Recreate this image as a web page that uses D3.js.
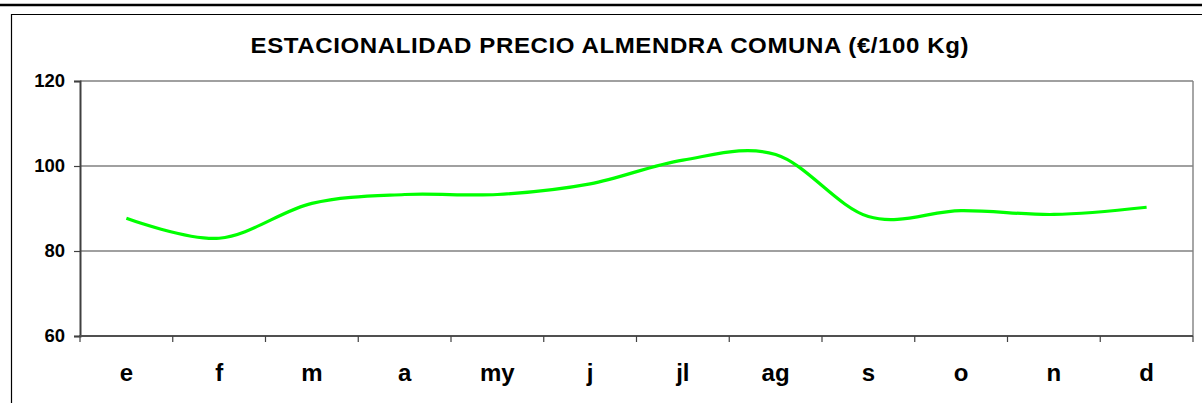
<!DOCTYPE html>
<html>
<head>
<meta charset="utf-8">
<script src="https://cdn.jsdelivr.net/npm/d3@7"></script>
<style>
  html, body { margin: 0; padding: 0; background: #fff; }
  svg { display: block; }
  text { font-family: "Liberation Sans", Arial, sans-serif; font-weight: bold; fill: #000; }
</style>
</head>
<body>
<svg id="chart" width="1202" height="403"></svg>
<script>
const titleText = "ESTACIONALIDAD PRECIO ALMENDRA COMUNA (€/100 Kg)";
const months = ["e", "f", "m", "a", "my", "j", "jl", "ag", "s", "o", "n", "d"];
const prices = [87.7, 83.0, 91.2, 93.3, 93.3, 95.8, 101.4, 102.7, 88.1, 89.5, 88.6, 90.3];
const yTicks = [60, 80, 100, 120];

const svg = d3.select("#chart");
const W = 1202, H = 403;
const plot = { left: 80, right: 1193, top: 81, bottom: 336 };

// outer frame lines
svg.append("line").attr("x1", 0).attr("x2", W).attr("y1", 5).attr("y2", 5)
  .attr("stroke", "#000").attr("stroke-width", 2.5);
svg.append("line").attr("x1", 11).attr("x2", W).attr("y1", 14.5).attr("y2", 14.5)
  .attr("stroke", "#000").attr("stroke-width", 1.2);
svg.append("line").attr("x1", 11.5).attr("x2", 11.5).attr("y1", 14).attr("y2", H)
  .attr("stroke", "#000").attr("stroke-width", 1.2);

const x = d3.scaleBand().domain(months).range([plot.left, plot.right]).padding(0);
const y = d3.scaleLinear().domain([60, 120]).range([plot.bottom, plot.top]);

// gridlines
svg.append("g").selectAll("line").data(yTicks.filter(v => v > 60)).join("line")
  .attr("x1", plot.left).attr("x2", plot.right)
  .attr("y1", d => y(d)).attr("y2", d => y(d))
  .attr("stroke", "#808080").attr("stroke-width", 1.4);
// right frame
svg.append("line").attr("x1", plot.right).attr("x2", plot.right)
  .attr("y1", plot.top).attr("y2", plot.bottom)
  .attr("stroke", "#808080").attr("stroke-width", 1.4);

// y axis
const yAxis = svg.append("g").attr("transform", `translate(${plot.left},0)`)
  .call(d3.axisLeft(y).tickValues(yTicks).tickSize(6).tickPadding(9).tickFormat(d3.format("d")));
yAxis.select(".domain").attr("stroke", "#404040").attr("stroke-width", 2);
yAxis.selectAll(".tick line").attr("stroke", "#404040").attr("stroke-width", 1.2);
yAxis.selectAll("text").attr("font-size", 18.5).attr("font-family", "Liberation Sans, Arial, sans-serif")
  .attr("font-weight", "bold").attr("fill", "#000");

// x axis: boundary ticks
const bounds = months.map(m => x(m)).concat([x.range()[1]]);
svg.append("line").attr("x1", plot.left - 1).attr("x2", plot.right)
  .attr("y1", y(60)).attr("y2", y(60)).attr("stroke", "#505050").attr("stroke-width", 1.8);
svg.append("g").selectAll("line").data(bounds).join("line")
  .attr("x1", d => d).attr("x2", d => d)
  .attr("y1", y(60)).attr("y2", y(60) + 6)
  .attr("stroke", "#404040").attr("stroke-width", 1.2);
svg.append("g").selectAll("text").data(months).join("text")
  .attr("x", d => x(d) + x.bandwidth() / 2)
  .attr("y", 381)
  .attr("text-anchor", "middle")
  .attr("font-size", 24)
  .text(d => d);

// title
const sx = 1.12;
svg.append("g").attr("transform", `translate(609.5,52.5) scale(${sx},1)`)
  .append("text")
  .attr("x", 0).attr("y", 0)
  .attr("text-anchor", "middle")
  .attr("font-size", 21.5)
  .attr("textLength", 718 / sx)
  .attr("lengthAdjust", "spacing")
  .text(titleText);

// line
const line = d3.line()
  .x((d, i) => x(months[i]) + x.bandwidth() / 2)
  .y(d => y(d))
  .curve(d3.curveCatmullRom.alpha(0));
svg.append("path").datum(prices)
  .attr("d", line)
  .attr("fill", "none")
  .attr("stroke", "#00ff00")
  .attr("stroke-width", 3.2)
  .attr("stroke-linejoin", "round");
</script>
</body>
</html>
